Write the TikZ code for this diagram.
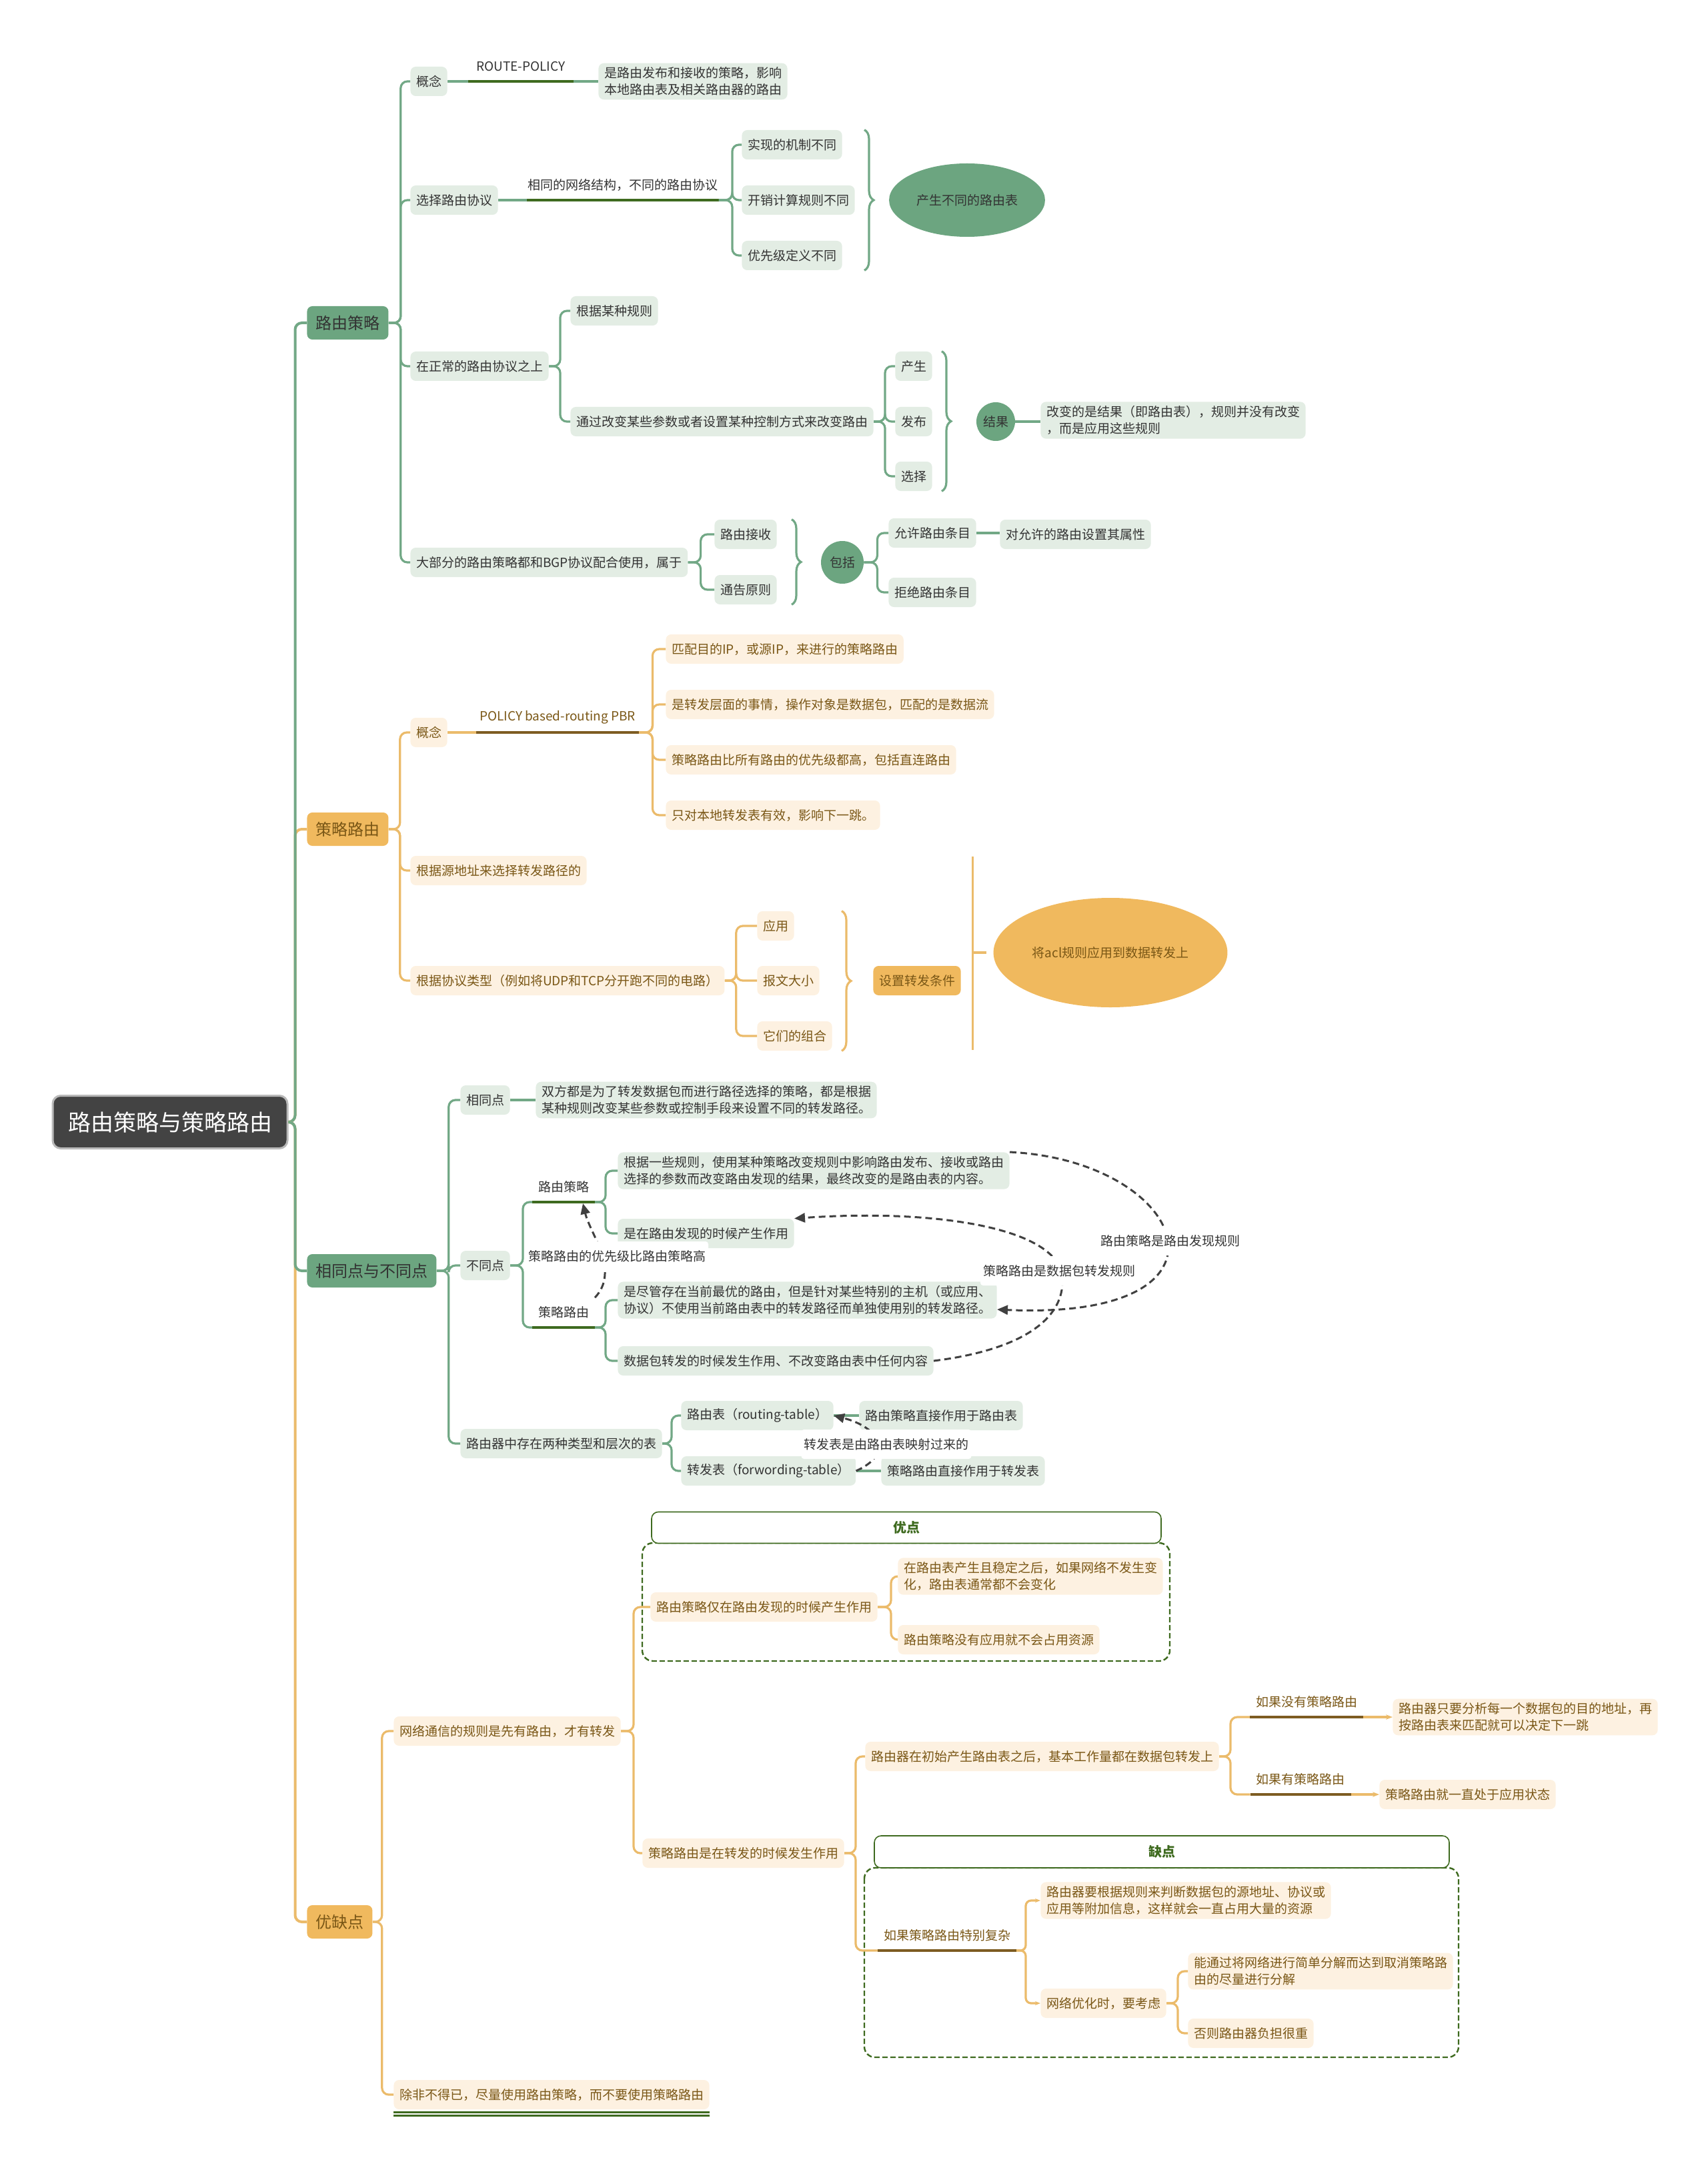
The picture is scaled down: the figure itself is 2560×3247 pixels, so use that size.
\documentclass[tikz,border=0pt]{standalone}
\usepackage{fontspec}
\setmainfont{Noto Sans CJK SC}
\usetikzlibrary{positioning,arrows.meta,calc,decorations.pathreplacing,shapes.geometric}

\definecolor{gline}{HTML}{72A886}
\definecolor{gmain}{HTML}{6CA580}
\definecolor{gfill}{HTML}{E3EDE4}
\definecolor{gdark}{HTML}{3E6A1F}
\definecolor{oline}{HTML}{EBBB6B}
\definecolor{omain}{HTML}{F0B95E}
\definecolor{ofill}{HTML}{FDF1E1}
\definecolor{otext}{HTML}{7A5716}
\definecolor{odark}{HTML}{7D5C22}
\definecolor{rootfill}{HTML}{434343}
\definecolor{txt}{HTML}{333333}

\tikzset{
  base/.style={font=\fontsize{9.5}{12.5}\selectfont, inner xsep=4.3pt, inner ysep=3pt,
    minimum height=22pt, rounded corners=4pt, align=left},
  gbox/.style={base, fill=gfill, text=txt},
  obox/.style={base, fill=ofill, text=otext},
  mainbox/.style={font=\fontsize{12}{14}\selectfont, inner xsep=6.5pt, minimum height=25pt,
    rounded corners=4pt, text=txt},
  rootbox/.style={font=\fontsize{17}{20}\selectfont, fill=rootfill, draw=gray!55, line width=1.5pt,
    text=white, rounded corners=6pt, minimum width=176pt, minimum height=39.5pt},
  lbl/.style={base, rounded corners=0pt},
  ulab/.style={base, rounded corners=0pt},
  glink/.style={draw=gline, line width=1.6pt, rounded corners=5pt},
  olink/.style={draw=oline, line width=1.6pt, rounded corners=5pt},
  gunder/.style={draw=gdark, line width=2pt},
  ounder/.style={draw=odark, line width=2pt},
  gbrace/.style={draw=gline, line width=1.6pt, decorate, decoration={brace, amplitude=7pt}},
  obrace/.style={draw=oline, line width=1.6pt, decorate, decoration={brace, amplitude=7pt}},
  dasharrow/.style={draw=black!75, line width=1.5pt, dash pattern=on 5pt off 3pt,
    -{Triangle[length=8pt,width=7pt]}},
  dlabel/.style={base, fill=white, text=txt, inner xsep=2pt, rounded corners=2pt},
  grp/.style={draw=gdark, line width=1.2pt, dash pattern=on 4pt off 2pt, rounded corners=8pt},
  grptitle/.style={draw=gdark, line width=0.8pt, fill=white, rounded corners=5pt,
    font=\fontsize{10}{12}\selectfont\bfseries, text=gdark},
}

\begin{document}
\begin{tikzpicture}[x=0.5pt,y=-0.5pt]
\useasboundingbox (0,0) rectangle (2560,3247);

% ---- root and main branches ----
\node[rootbox] (root) at (255,1682) {路由策略与策略路由};
\node[mainbox, fill=gmain, anchor=west] (m1) at (460,484) {路由策略};
\node[mainbox, fill=omain, text=otext, anchor=west] (m2) at (460,1243) {策略路由};
\node[mainbox, fill=gmain, anchor=west] (m3) at (460,1905) {相同点与不同点};
\node[mainbox, fill=omain, text=otext, anchor=west] (m4) at (460,2881) {优缺点};
\draw[olink,line width=2pt] (root.east) -- ++(10,0) |- (m2.west);
\draw[glink,line width=2pt] (root.east) -- ++(10,0) |- (m1.west);
\draw[olink,line width=2pt] (root.east) -- ++(10,0) |- (m4.west);
\draw[glink,line width=2pt] (root.east) -- ++(10,0) |- (m3.west);

% ---- (1) 路由策略 ----
\node[gbox, anchor=west] (a1) at (615,122) {概念};
\node[lbl, text=txt, inner xsep=6pt, anchor=south] (a1l) at (781,122) {ROUTE-POLICY};
\node[gbox, anchor=west] (a1d) at (897,122) {是路由发布和接收的策略，影响\\本地路由表及相关路由器的路由};
\draw[glink] (a1.east) -- (a1l.south west);
\draw[gunder] (a1l.south west) -- (a1l.south east);
\draw[glink] (a1l.south east) -- (a1d.west);

\node[gbox, anchor=west] (a2) at (615,300) {选择路由协议};
\node[lbl, text=txt, inner xsep=0.5pt, anchor=south] (a2l) at (934,300) {相同的网络结构，不同的路由协议};
\draw[glink] (a2.east) -- (a2l.south west);
\draw[gunder] (a2l.south west) -- (a2l.south east);
\node[gbox, anchor=west] (a21) at (1112,217) {实现的机制不同};
\node[gbox, anchor=west] (a22) at (1112,300) {开销计算规则不同};
\node[gbox, anchor=west] (a23) at (1112,383) {优先级定义不同};
\foreach \ch in {a21,a22,a23} \draw[glink] (a2l.south east) -- ++(20,0) |- (\ch.west);
\draw[gbrace] ($(a22.east |- a21.north)+(14,0)$) -- ($(a22.east |- a23.south)+(14,0)$);
\node[ellipse, fill=gmain, text=txt, font=\fontsize{9.5}{12}\selectfont,
  minimum width=107pt, minimum height=55pt] (e1) at (1450,300) {产生不同的路由表};

\node[gbox, anchor=west] (a3) at (615,549) {在正常的路由协议之上};
\node[gbox, anchor=west] (a31) at (855,466) {根据某种规则};
\node[gbox, anchor=west] (a32) at (855,632) {通过改变某些参数或者设置某种控制方式来改变路由};
\foreach \ch in {a31,a32} \draw[glink] (a3.east) -- ++(17,0) |- (\ch.west);
\node[gbox, anchor=west] (a321) at (1342,549) {产生};
\node[gbox, anchor=west] (a322) at (1342,632) {发布};
\node[gbox, anchor=west] (a323) at (1342,714) {选择};
\foreach \ch in {a321,a322,a323} \draw[glink] (a32.east) -- ++(17,0) |- (\ch.west);
\draw[gbrace] ($(a322.east |- a321.north)+(14,0)$) -- ($(a322.east |- a323.south)+(14,0)$);
\node[circle, fill=gmain, text=txt, font=\fontsize{9.5}{12}\selectfont, inner sep=0pt,
  minimum size=29pt] (c1) at (1493,632) {结果};
\node[gbox, anchor=west] (a3d) at (1560,630) {改变的是结果（即路由表），规则并没有改变\\，而是应用这些规则};
\draw[glink] (c1.east) -- (c1.east -| a3d.west);

\node[gbox, anchor=west] (a4) at (615,843) {大部分的路由策略都和BGP协议配合使用，属于};
\node[gbox, anchor=west] (a41) at (1071,801) {路由接收};
\node[gbox, anchor=west] (a42) at (1071,884) {通告原则};
\foreach \ch in {a41,a42} \draw[glink] (a4.east) -- ++(19,0) |- (\ch.west);
\draw[gbrace] ($(a41.east |- a41.north)+(22,0)$) -- ($(a41.east |- a42.south)+(22,0)$);
\node[circle, fill=gmain, text=txt, font=\fontsize{9.5}{12}\selectfont, inner sep=0pt,
  minimum size=32pt] (c2) at (1263,843) {包括};
\node[gbox, anchor=west] (a43) at (1332,799) {允许路由条目};
\node[gbox, anchor=west] (a44) at (1332,888) {拒绝路由条目};
\foreach \ch in {a43,a44} \draw[glink] (c2.east) -- ++(20,0) |- (\ch.west);
\node[gbox, anchor=west] (a43d) at (1499,801) {对允许的路由设置其属性};
\draw[glink] (a43.east) -- (a43.east -| a43d.west);
\foreach \ch in {a1,a2,a3,a4} \draw[glink] (m1.east) -- ++(18,0) |- (\ch.west);

% ---- (2) 策略路由 ----
\node[obox, anchor=west] (b1) at (615,1098) {概念};
\node[lbl, text=otext, inner xsep=2.5pt, anchor=south] (b1l) at (836,1098) {POLICY based-routing PBR};
\draw[olink] (b1.east) -- (b1l.south west);
\draw[ounder] (b1l.south west) -- (b1l.south east);
\node[obox, anchor=west] (b11) at (998,973) {匹配目的IP，或源IP，来进行的策略路由};
\node[obox, anchor=west] (b12) at (998,1056) {是转发层面的事情，操作对象是数据包，匹配的是数据流};
\node[obox, anchor=west] (b13) at (998,1139) {策略路由比所有路由的优先级都高，包括直连路由};
\node[obox, anchor=west] (b14) at (998,1222) {只对本地转发表有效，影响下一跳。};
\foreach \ch in {b11,b12,b13,b14} \draw[olink] (b1l.south east) -- ++(20,0) |- (\ch.west);
\node[obox, anchor=west] (b2) at (615,1305) {根据源地址来选择转发路径的};
\node[obox, anchor=west] (b3) at (615,1470) {根据协议类型（例如将UDP和TCP分开跑不同的电路）};
\node[obox, anchor=west] (b31) at (1135,1388) {应用};
\node[obox, anchor=west] (b32) at (1135,1470) {报文大小};
\node[obox, anchor=west] (b33) at (1135,1553) {它们的组合};
\foreach \ch in {b31,b32,b33} \draw[olink] (b3.east) -- ++(17,0) |- (\ch.west);
\draw[obrace] ($(b33.east |- b31.north)+(14,0)$) -- ($(b33.east |- b33.south)+(14,0)$);
\node[obox, fill=omain, anchor=west] (b4) at (1309,1470) {设置转发条件};
\node[ellipse, fill=omain, text=otext, font=\fontsize{9.5}{12}\selectfont,
  minimum width=163pt, minimum height=82pt] (e2) at (1665,1428) {将acl规则应用到数据转发上};
\draw[olink,rounded corners=0pt] ($(e2.west)+(-31,-144)$) -- ($(e2.west)+(-31,146)$);
\draw[olink] ($(e2.west)+(-31,0)$) -- ($(e2.west)+(-10,0)$);
\foreach \ch in {b1,b2,b3} \draw[olink] (m2.east) -- ++(17,0) |- (\ch.west);

% ---- (3) 相同点与不同点 ----
\node[gbox, anchor=west] (c31) at (690,1649) {相同点};
\node[gbox, anchor=west] (c31d) at (803,1649) {双方都是为了转发数据包而进行路径选择的策略，都是根据\\某种规则改变某些参数或控制手段来设置不同的转发路径。};
\draw[glink] (c31.east) -- (c31d.west);
\node[gbox, anchor=west] (c32) at (690,1897) {不同点};
\node[ulab, text=txt, anchor=south] (u1) at (845,1802) {路由策略};
\node[ulab, text=txt, anchor=south] (u2) at (845,1990) {策略路由};
\foreach \ch in {u1,u2} \draw[glink] (c32.east) -- ++(19,0) |- (\ch.south west);
\draw[gunder] (u1.south west) -- (u1.south east);
\draw[gunder] (u2.south west) -- (u2.south east);
\node[gbox, anchor=west] (c321) at (926,1755) {根据一些规则，使用某种策略改变规则中影响路由发布、接收或路由\\选择的参数而改变路由发现的结果，最终改变的是路由表的内容。};
\node[gbox, anchor=west] (c322) at (926,1849) {是在路由发现的时候产生作用};
\node[gbox, anchor=west] (c323) at (926,1949) {是尽管存在当前最优的路由，但是针对某些特别的主机（或应用、\\协议）不使用当前路由表中的转发路径而单独使用别的转发路径。};
\node[gbox, anchor=west] (c324) at (926,2040) {数据包转发的时候发生作用、不改变路由表中任何内容};
\foreach \ch in {c321,c322} \draw[glink] (u1.south east) -- ++(16,0) |- (\ch.west);
\foreach \ch in {c323,c324} \draw[glink] (u2.south east) -- ++(16,0) |- (\ch.west);
\draw[dasharrow] (u2.north east) .. controls (930,1905) and (885,1850) .. ($(u1.south east)+(-18,2)$);
\draw[dasharrow] (c321.north east) .. controls (1780,1740) and (1880,1980) .. ([yshift=-7pt]c323.east);
\draw[dasharrow] (c324.east) .. controls (1560,2020) and (1600,1960) .. (1592,1910)
  .. controls (1580,1840) and (1400,1812) .. (c322.north east);
\node[dlabel] (l1) at (925,1883) {策略路由的优先级比路由策略高};
\node[dlabel] (l2) at (1755,1860) {路由策略是路由发现规则};
\node[dlabel] (l3) at (1588,1905) {策略路由是数据包转发规则};

\node[gbox, anchor=west] (c33) at (690,2164) {路由器中存在两种类型和层次的表};
\node[gbox, anchor=west] (c331) at (1021,2122) {路由表（routing-table）};
\node[gbox, anchor=west] (c332) at (1021,2205) {转发表（forwording-table）};
\foreach \ch in {c331,c332} \draw[glink] (c33.east) -- ++(14,0) |- (\ch.west);
\node[gbox, anchor=west] (c331d) at (1288,2122) {路由策略直接作用于路由表};
\node[gbox, anchor=west] (c332d) at (1321,2205) {策略路由直接作用于转发表};
\draw[glink] (c331d.west) -- (c331.east);
\draw[glink] (c332d.west) -- (c332.east);
\draw[dasharrow] (c332.east) .. controls (1340,2180) and (1320,2140) .. (c331.east);
\node[dlabel] (l4) at (1329,2165) {转发表是由路由表映射过来的};
\foreach \ch in {c31,c32,c33} \draw[glink] (m3.east) -- ++(18,0) |- (\ch.west);

% ---- (4) 优缺点 ----
\draw[grp] (963,2313) rectangle (1754,2490);
\node[grptitle, minimum width=382pt, minimum height=23.5pt] (g1) at (1359,2290) {优点};
\draw[grp] (1296,2800) rectangle (2187,3084);
\node[grptitle, minimum width=431pt, minimum height=24pt] (g2) at (1742,2776) {缺点};

\node[obox, anchor=west] (d1) at (590,2595) {网络通信的规则是先有路由，才有转发};
\node[obox, anchor=west] (d2) at (590,3140) {除非不得已，尽量使用路由策略，而不要使用策略路由};
\draw[gunder,line width=1.2pt] ($(d2.south west)+(0,4)$) -- ($(d2.south east)+(0,4)$);
\draw[gunder,line width=1.2pt] ($(d2.south west)+(0,9)$) -- ($(d2.south east)+(0,9)$);
\foreach \ch in {d1,d2} \draw[olink] (m4.east) -- ++(14,0) |- (\ch.west);

\node[obox, anchor=west] (d11) at (975,2409) {路由策略仅在路由发现的时候产生作用};
\node[obox, anchor=west] (d12) at (963,2778) {策略路由是在转发的时候发生作用};
\foreach \ch in {d11,d12} \draw[olink] (d1.east) -- ++(19,0) |- (\ch.west);
\node[obox, anchor=west] (d111) at (1346,2363) {在路由表产生且稳定之后，如果网络不发生变\\化，路由表通常都不会变化};
\node[obox, anchor=west] (d112) at (1346,2458) {路由策略没有应用就不会占用资源};
\foreach \ch in {d111,d112} \draw[olink] (d11.east) -- ++(20,0) |- (\ch.west);

\node[obox, anchor=west] (d121) at (1297,2633) {路由器在初始产生路由表之后，基本工作量都在数据包转发上};
\node[ulab, text=otext, anchor=south] (d122) at (1420,2924) {如果策略路由特别复杂};
\draw[olink] (d12.east) -- ++(17,0) |- (d121.west);
\draw[olink] (d12.east) -- ++(17,0) |- (d122.south west);
\draw[ounder] (d122.south west) -- (d122.south east);

\node[ulab, text=otext, anchor=south] (d1211) at (1959,2574) {如果没有策略路由};
\node[ulab, text=otext, anchor=south] (d1212) at (1950,2690) {如果有策略路由};
\foreach \ch in {d1211,d1212} \draw[olink] (d121.east) -- ++(17,0) |- (\ch.south west);
\draw[ounder] (d1211.south west) -- (d1211.south east);
\draw[ounder] (d1212.south west) -- (d1212.south east);
\node[obox, anchor=west] (d1211d) at (2088,2574) {路由器只要分析每一个数据包的目的地址，再\\按路由表来匹配就可以决定下一跳};
\node[obox, anchor=west] (d1212d) at (2068,2690) {策略路由就一直处于应用状态};
\draw[olink,-{Stealth[length=5pt]}] (d1211.south east) -- (d1211d.west);
\draw[olink,-{Stealth[length=5pt]}] (d1212.south east) -- (d1212d.west);

\node[obox, anchor=west] (d1221) at (1560,2849) {路由器要根据规则来判断数据包的源地址、协议或\\应用等附加信息，这样就会一直占用大量的资源};
\node[obox, anchor=west] (d1222) at (1560,3003) {网络优化时，要考虑};
\foreach \ch in {d1221,d1222} \draw[olink,rounded corners=4pt,-{Stealth[length=4pt]}] (d122.south east) -- ++(14,0) |- (\ch.west);
\node[obox, anchor=west] (d12221) at (1781,2955) {能通过将网络进行简单分解而达到取消策略路\\由的尽量进行分解};
\node[obox, anchor=west] (d12222) at (1781,3048) {否则路由器负担很重};
\foreach \ch in {d12221,d12222} \draw[olink] (d1222.east) -- ++(17,0) |- (\ch.west);
\end{tikzpicture}
\end{document}
